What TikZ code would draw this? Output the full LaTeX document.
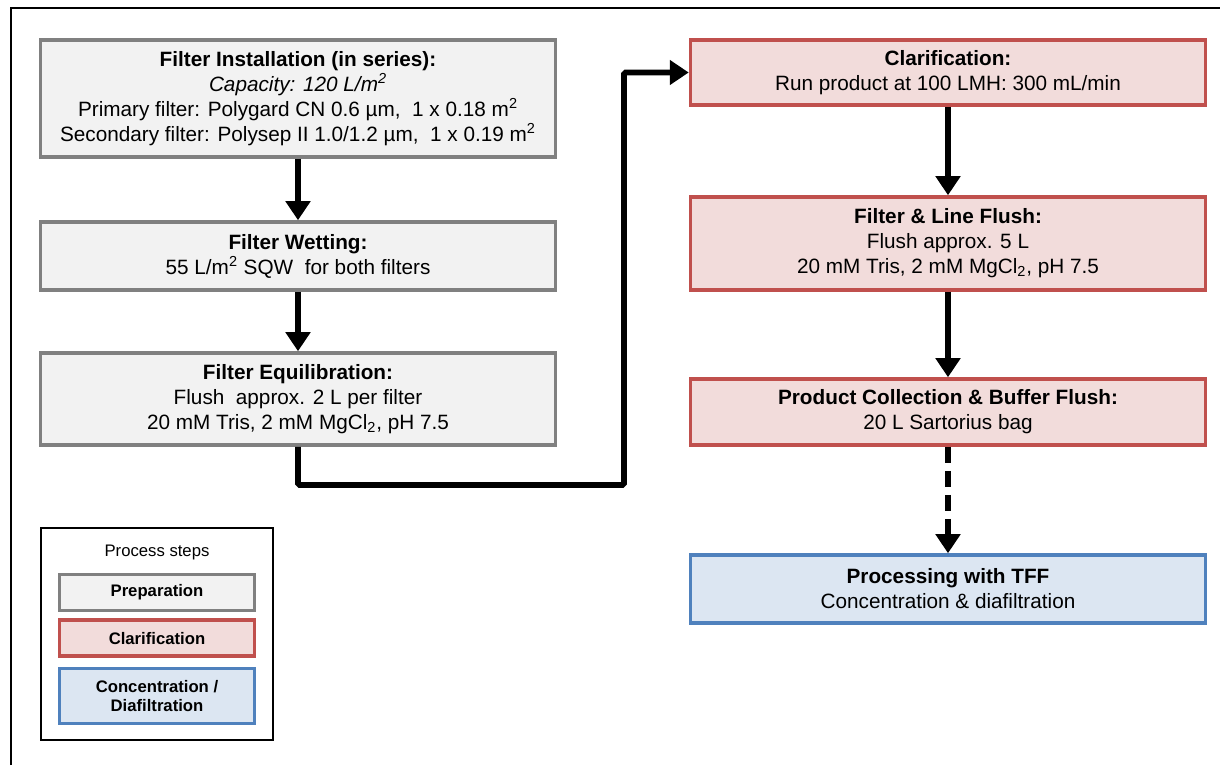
\documentclass[tikz,border=0pt]{standalone}
\usepackage{fontspec}
\setmainfont{Liberation Sans}
\usetikzlibrary{arrows.meta,positioning}
\definecolor{prepline}{HTML}{808080}
\definecolor{prepfill}{HTML}{F2F2F2}
\definecolor{clarline}{HTML}{C0504D}
\definecolor{clarfill}{HTML}{F2DCDB}
\definecolor{tffline}{HTML}{4F81BD}
\definecolor{tfffill}{HTML}{DCE6F2}
\begin{document}
\begin{tikzpicture}[node distance=3cm,
  stepbox/.style={draw, line width=2pt, minimum width=10.3cm, align=center, font=\fontsize{11.8}{14.2}\selectfont},
  prepbox/.style={stepbox, draw=prepline, fill=prepfill},
  clarbox/.style={stepbox, draw=clarline, fill=clarfill},
  tffbox/.style={stepbox, draw=tffline, fill=tfffill},
  legbox/.style={line width=2pt, minimum width=3.9cm, align=center, font=\fontsize{9.5}{11.3}\selectfont\bfseries},
  flow/.style={line width=3.4pt, -{Triangle[length=0.38cm,width=0.48cm]}}]
\useasboundingbox (0,0) rectangle (24.4,-15.3);
\draw[line width=1pt] (0.22,-15.3) |- (24.4,-0.16);
% preparation
\node (inst) [prepbox, minimum height=2.34cm] at (5.96,-1.97) {\textbf{Filter Installation (in series):}\\ \textit{Capacity: 120 L/m\textsuperscript{2}}\\ Primary filter: Polygard CN 0.6 µm,\ \ 1 x 0.18 m\textsuperscript{2}\\ Secondary filter: Polysep II 1.0/1.2 µm,\ \ 1 x 0.19 m\textsuperscript{2}};
\node (wet) [prepbox, minimum height=1.36cm, below of=inst, yshift=-0.15cm] {\textbf{Filter Wetting:}\\ 55 L/m\textsuperscript{2} SQW\ \ for both filters};
\node (equi) [prepbox, minimum height=1.84cm, below of=wet, yshift=0.14cm] {\textbf{Filter Equilibration:}\\ Flush\ \ approx. 2 L per filter\\ 20 mM Tris, 2 mM MgCl\textsubscript{2}, pH 7.5};
% clarification
\node (clar) [clarbox, minimum height=1.3cm] at (18.96,-1.45) {\textbf{Clarification:}\\ Run product at 100 LMH: 300 mL/min};
\node (flush) [clarbox, minimum height=1.86cm, below of=clar, yshift=-0.42cm] {\textbf{Filter \& Line Flush:}\\ Flush approx. 5 L\\ 20 mM Tris, 2 mM MgCl\textsubscript{2}, pH 7.5};
\node (coll) [clarbox, minimum height=1.32cm, below of=flush, yshift=-0.37cm] {\textbf{Product Collection \& Buffer Flush:}\\ 20 L Sartorius bag};
\node (tff) [tffbox, minimum height=1.36cm, below of=coll, yshift=-0.54cm] {\textbf{Processing with TFF}\\ Concentration \& diafiltration};
% legend
\node (legend) [draw, line width=1pt, minimum width=4.64cm, minimum height=4.24cm] at (3.14,-12.68) {};
\node (legtitle) [font=\fontsize{9.5}{11.3}\selectfont] at ([yshift=-0.5cm]legend.north) {Process steps};
\node (lprep) [legbox, draw=prepline, fill=prepfill, minimum height=0.72cm, below=0.14cm of legtitle] {Preparation};
\node (lclar) [legbox, draw=clarline, fill=clarfill, minimum height=0.72cm, below=0.12cm of lprep] {Clarification};
\node (lconc) [legbox, draw=tffline, fill=tfffill, minimum height=1.1cm, below=0.18cm of lclar] {Concentration /\\ Diafiltration};
% connectors
\coordinate (turn) at (12.48,-9.7);
\draw[flow] (inst) -- (wet);
\draw[flow] (wet) -- (equi);
\draw[flow, rounded corners=1pt] (equi.south) |- (turn) |- (clar.west);
\draw[flow] (clar) -- (flush);
\draw[flow] (flush) -- (coll);
\draw[flow, dash pattern=on 0.32cm off 0.16cm] (coll) -- (tff);
\end{tikzpicture}
\end{document}
